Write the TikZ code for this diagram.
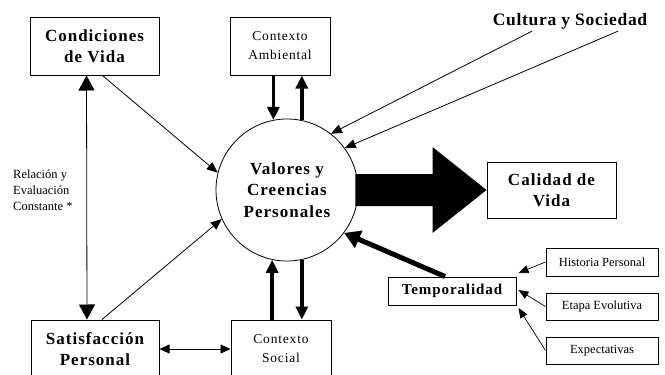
\documentclass[tikz,border=0pt]{standalone}
\usepackage{fontspec}
\setmainfont{Liberation Serif}
\usetikzlibrary{positioning, arrows.meta, calc}

\begin{document}
\begin{tikzpicture}[
		x=1pt, y=-1pt,
		node distance=16pt,
		box/.style={draw, line width=1pt, align=center, inner sep=0pt},
		bigbox/.style={box, minimum width=129pt, minimum height=58pt, font=\fontsize{17}{21}\selectfont\bfseries\addfontfeatures{LetterSpace=6}},
		ctxbox/.style={box, minimum width=100pt, minimum height=58pt, font=\fontsize{13.5}{19}\selectfont\addfontfeatures{LetterSpace=6}},
		smallbox/.style={box, minimum width=112pt, minimum height=27pt, font=\fontsize{12.5}{14}\selectfont},
		arrow/.style={-{Triangle[length=11pt, width=9pt]}, line width=0.8pt},
		smallarrow/.style={-{Triangle[length=10pt, width=8pt]}, line width=0.7pt},
		heavyarrow/.style={-{Triangle[length=13pt, width=12pt]}, line width=3.5pt}
		]
		\useasboundingbox (0,0) rectangle (665,375);
		
		% Centre circle
		\node[draw, circle, line width=0.8pt, minimum size=142pt, inner sep=0pt, align=center,
			font=\fontsize{17}{21.5}\selectfont\bfseries\addfontfeatures{LetterSpace=6}] (valores) at (287,190) {Valores y\\Creencias\\Personales};
		
		\node[bigbox] (cond) at (94.5,46) {Condiciones\\de Vida};
		\node[ctxbox] (amb) at (280,46) {Contexto\\Ambiental};
		\node[bigbox, minimum height=56pt] (calidad) at (551.5,190) {Calidad de\\Vida};
		\node[bigbox, minimum width=128pt] (sat) at (95,349) {Satisfacción\\Personal};
		\node[ctxbox] (soc) at (281,349) {Contexto\\Social};
		
		\node[font=\fontsize{17.5}{21}\selectfont\bfseries\addfontfeatures{LetterSpace=4}, inner sep=2pt] (cultura) at (570,21) {Cultura y Sociedad};
		\node[anchor=west, align=left, inner sep=0pt, font=\fontsize{12.5}{16}\selectfont] (rel) at (13,190) {Relación y\\Evaluación\\Constante *};
		
		% Temporalidad
		\node[box, minimum width=128pt, minimum height=28pt, font=\fontsize{15}{16}\selectfont\bfseries\addfontfeatures{LetterSpace=6}] (temp) at (452,291) {Temporalidad};
		\node[smallbox, minimum height=28pt] (hist) at (602,262) {Historia Personal};
		\node[smallbox, below=of hist] (etapa) {Etapa Evolutiva};
		\node[smallbox, below=of etapa] (expect) {Expectativas};
		
		% Big arrow
		\fill ($(valores.east)+(-3,-16)$) -- ($(calidad.west)+(-54,-16)$) -- ($(calidad.west)+(-54,-43)$)
			-- (calidad.west) -- ($(calidad.west)+(-54,43)$) -- ($(calidad.west)+(-54,16)$)
			-- ($(valores.east)+(-3,16)$) -- cycle;
		
		\draw[{Triangle[length=15pt, width=16pt]}-{Triangle[length=15pt, width=16pt]}, line width=0.8pt] ($(cond.south)+(-8,0)$) -- ($(sat.north)+(-8,0)$);
		\draw[{Triangle[length=10pt, width=9pt]}-{Triangle[length=10pt, width=9pt]}, line width=0.8pt] (sat.east) -- (soc.west);
		
		\draw[arrow] ($(cond.south)+(8,0)$) -- (valores.166);
		\draw[arrow] ($(sat.north)+(7,0)$) -- (valores.204);
		\draw[arrow] ($(cultura.south)+(-38,0)$) -- (valores.52);
		\draw[arrow] ($(cultura.south)+(48,0)$) -- (valores.36);
		
		\draw[heavyarrow] (valores.101 |- amb.south) -- (valores.101);
		\draw[heavyarrow] (valores.78) -- (valores.78 |- amb.south);
		\draw[heavyarrow] (valores.258 |- soc.north) -- (valores.258);
		\draw[heavyarrow] (valores.282) -- (valores.282 |- soc.north);
		
		\draw[-{Triangle[length=16pt, width=18pt]}, line width=5pt] ($(temp.north)+(-7,0)$) -- (valores.323);
		
		\draw[smallarrow] (hist.west) -- ($(temp.east)+(2,-18)$);
		\draw[smallarrow] (etapa.west) -- ($(temp.east)+(2,-1)$);
		\draw[smallarrow] (expect.west) -- ($(temp.east)+(2,17)$);
		
	\end{tikzpicture}
\end{document}
